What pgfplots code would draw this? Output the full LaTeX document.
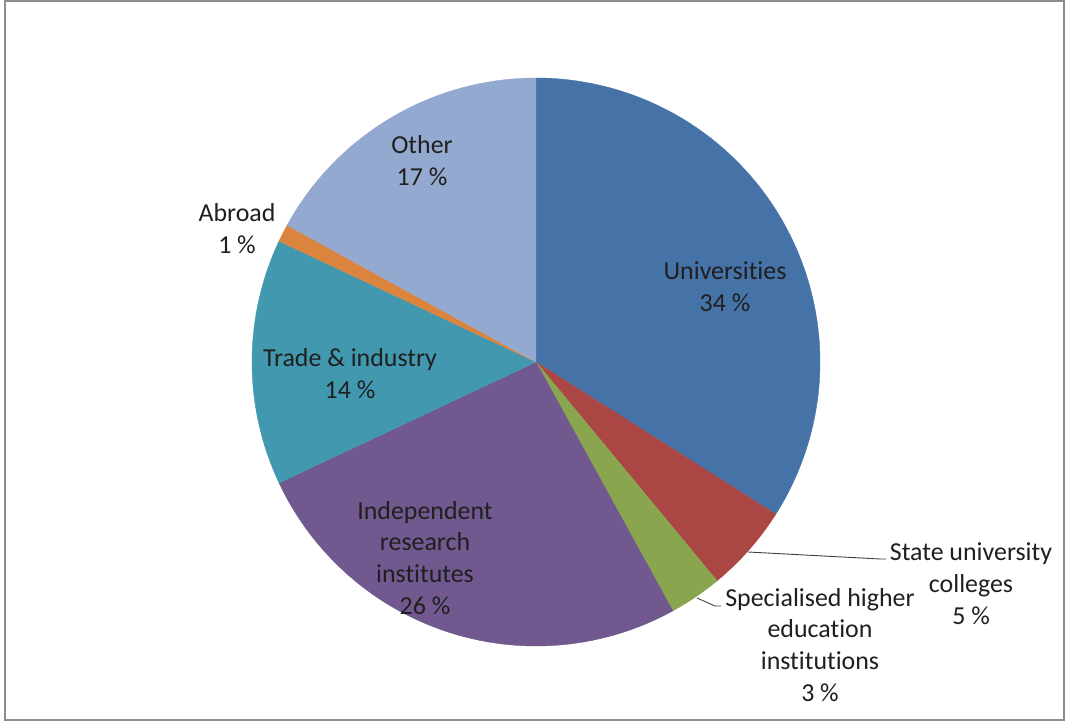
\documentclass[border=0pt]{standalone}
\usepackage{fontspec}
\setmainfont[Ligatures=NoCommon]{Carlito}
\usepackage{pgfplots}
\pgfplotsset{compat=1.18}
\definecolor{cU}{HTML}{4572A7}
\definecolor{cS}{HTML}{AA4643}
\definecolor{cSp}{HTML}{89A54E}
\definecolor{cI}{HTML}{71588F}
\definecolor{cT}{HTML}{4198AF}
\definecolor{cA}{HTML}{DB843D}
\definecolor{cO}{HTML}{93A9CF}
\definecolor{frame}{HTML}{8C8C8C}
\tikzset{lbl/.style={font=\fontsize{26}{32}\selectfont, text=black!88, align=center, inner sep=0pt}}
% shares in percent
\def\vU{34}\def\vS{5}\def\vSp{3}\def\vI{26}\def\vT{14}\def\vA{1}\def\vO{17}
\pgfmathsetmacro{\aZ}{90}
\pgfmathsetmacro{\aU}{\aZ-3.6*\vU}
\pgfmathsetmacro{\aS}{\aU-3.6*\vS}
\pgfmathsetmacro{\aSp}{\aS-3.6*\vSp}
\pgfmathsetmacro{\aI}{\aSp-3.6*\vI}
\pgfmathsetmacro{\aT}{\aI-3.6*\vT}
\pgfmathsetmacro{\aA}{\aT-3.6*\vA}
\pgfmathsetmacro{\aO}{\aA-3.6*\vO}
\newcommand{\slice}[3]{%
  \addplot[fill=#1, draw=#1, line width=0.4pt, samples at={-1,0,1,...,120}]
  ({x<0 ? 536 : 536+284*cos(#2+(#3-#2)*x/120)},
   {x<0 ? 360 : 360+284*sin(#2+(#3-#2)*x/120)});}
\begin{document}
\begin{tikzpicture}
\begin{axis}[
  hide axis, scale only axis, width=1067bp, height=722bp,
  xmin=0, xmax=1067, ymin=0, ymax=722, enlargelimits=false, clip=false,
]
\fill[white] (axis cs:0,0) rectangle (axis cs:1067,722);
\draw[frame, line width=2bp] (axis cs:4.5,2) rectangle (axis cs:1064,720.5);
\slice{cU}{\aZ}{\aU}
\slice{cS}{\aU}{\aS}
\slice{cSp}{\aS}{\aSp}
\slice{cI}{\aSp}{\aI}
\slice{cT}{\aI}{\aT}
\slice{cA}{\aT}{\aA}
\slice{cO}{\aA}{\aO}
\addplot[black!75, line width=0.9bp] coordinates {(748,170) (880,163) (886,163)};
\addplot[black!75, line width=0.9bp] coordinates {(697,124) (715,116) (721,116)};
\node[lbl] at (axis cs:725,435) {Universities\\34 \%};
\node[lbl] at (axis cs:422,561) {Other\\17 \%};
\node[lbl] at (axis cs:237,493) {Abroad\\1 \%};
\node[lbl] at (axis cs:350,348) {Trade \& industry\\14 \%};
\node[lbl] at (axis cs:425,164) {Independent\\research\\institutes\\26 \%};
\node[lbl] at (axis cs:971,138) {State university\\colleges\\5 \%};
\node[lbl] at (axis cs:820,77) {Specialised higher\\education\\institutions\\3 \%};
\end{axis}
\end{tikzpicture}
\end{document}
